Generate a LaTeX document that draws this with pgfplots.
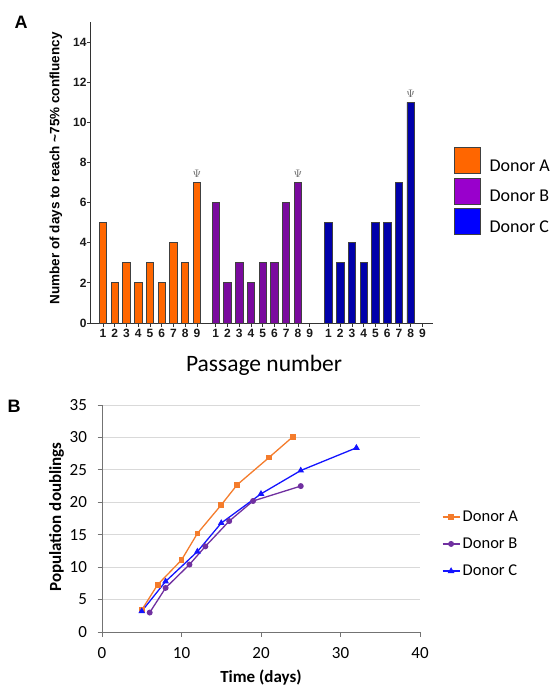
\documentclass[border=0pt]{standalone}
\usepackage{fontspec}
\setmainfont{Liberation Sans}
\newfontfamily\carlito{Carlito}
\usepackage{pgfplots}
\pgfplotsset{compat=1.18}

\definecolor{barA}{HTML}{FF6600}
\definecolor{barB}{HTML}{7A0A9E}
\definecolor{barC}{HTML}{0000AA}
\definecolor{legA}{HTML}{FF6600}
\definecolor{legB}{HTML}{9900CC}
\definecolor{legC}{HTML}{0000FF}
\definecolor{lineA}{HTML}{F47C2C}
\definecolor{lineB}{HTML}{7030A0}
\definecolor{lineC}{HTML}{1414FF}

\begin{document}
\begin{tikzpicture}
\useasboundingbox (0,0) rectangle (552pt,-688pt);

% ---------------- Panel A ----------------
\begin{axis}[
  at={(91pt,-323pt)}, anchor=south west,
  scale only axis, width=342pt, height=301pt,
  xmin=-1.02, xmax=28.1, ymin=0, ymax=15,
  axis x line*=bottom, axis y line*=left,
  axis line style={-, line width=1pt, black!80},
  xtick={0,1,2,3,4,5,6,7,8,9.6,10.6,11.6,12.6,13.6,14.6,15.6,16.6,17.6,19.2,20.2,21.2,22.2,23.2,24.2,25.2,26.2,27.2},
  xticklabels={1,2,3,4,5,6,7,8,9,1,2,3,4,5,6,7,8,9,1,2,3,4,5,6,7,8,9},
  ytick={0,2,...,14},
  yticklabel={\textbf{\pgfmathprintnumber{\tick}}},
  tick align=outside, major tick length=3.5pt,
  tick style={line width=0.8pt, black!80},
  ticklabel style={font=\fontsize{12}{13}\selectfont\bfseries, text=black!90},
  xticklabel style={inner sep=2.5pt},
  yticklabel style={inner sep=0.8pt},
  /pgf/number format/assume math mode=true,
  ylabel={Number of days to reach \textasciitilde75\% confluency},
  ylabel style={at={(axis description cs:-0.103,0.514)}, anchor=center, rotate=0,
    font=\fontsize{13.5}{15}\selectfont\bfseries},
  xlabel={Passage number},
  xlabel style={at={(axis description cs:0.506,-0.1395)}, anchor=center,
    font=\carlito\fontsize{23.5}{26}\selectfont},
  legend style={at={(axis description cs:1.0614,0.5847)}, anchor=north west,
    draw=none, fill=none, inner sep=0pt, outer sep=0pt, row sep=3.6pt,
    font=\carlito\fontsize{18}{20}\selectfont, nodes={inner sep=0pt}},
  legend cell align=left,
  legend image code/.code={\draw[#1, line width=0.9pt] (0pt,-7.2pt) rectangle (26pt,18.8pt); \path (35pt,0pt);},
]
\addlegendimage{fill=legA, draw=black!75}
\addlegendentry{Donor A}
\addlegendimage{fill=legB, draw=black!75}
\addlegendentry{Donor B}
\addlegendimage{fill=legC, draw=black!75}
\addlegendentry{Donor C}

\addplot[ybar, bar shift=0pt, bar width=0.63, fill=barA, draw=black!75, line width=0.8pt, forget plot]
  coordinates {(0,5) (1,2) (2,3) (3,2) (4,3) (5,2) (6,4) (7,3) (8,7)};
\addplot[ybar, bar shift=0pt, bar width=0.63, fill=barB, draw=black!75, line width=0.8pt, forget plot]
  coordinates {(9.6,6) (10.6,2) (11.6,3) (12.6,2) (13.6,3) (14.6,3) (15.6,6) (16.6,7)};
\addplot[ybar, bar shift=0pt, bar width=0.63, fill=barC, draw=black!75, line width=0.8pt, forget plot]
  coordinates {(19.2,5) (20.2,3) (21.2,4) (22.2,3) (23.2,5) (24.2,5) (25.2,7) (26.2,11)};
\addplot[draw=none, mark=none, forget plot, nodes near coords={$\Psi$},
  every node near coord/.append style={anchor=south, inner sep=0pt, yshift=5pt,
    font=\fontsize{10.5}{10.5}\selectfont, text=black!60}]
  coordinates {(8,7) (16.6,7) (26.2,11)};
\end{axis}

% ---------------- Panel B ----------------
\begin{axis}[
  at={(102pt,-632pt)}, anchor=south west,
  scale only axis, width=318pt, height=227pt,
  xmin=0, xmax=40, ymin=0, ymax=35,
  xtick={0,10,...,40}, ytick={0,5,...,35},
  axis x line*=bottom, axis y line*=left,
  axis line style={-, line width=1pt, black!55},
  ymajorgrids, grid style={line width=0.8pt, black!15},
  tick align=outside, major tick length=4.5pt,
  tick style={line width=0.8pt, black!55},
  ticklabel style={font=\carlito\fontsize{17}{19}\selectfont},
  xticklabel style={yshift=-7pt},
  yticklabel style={xshift=-7pt},
  /pgf/number format/assume math mode=true,
  ylabel={Population doublings},
  ylabel style={at={(axis description cs:-0.1425,0.5066)}, anchor=center, rotate=0,
    font=\carlito\fontsize{17}{19}\selectfont\bfseries},
  xlabel={Time (days)},
  xlabel style={at={(axis description cs:0.5,-0.2026)}, anchor=center,
    font=\carlito\fontsize{17}{19}\selectfont\bfseries},
  legend style={at={(axis description cs:1.069,0.3877)}, anchor=west,
    draw=none, fill=none, inner sep=0pt, outer sep=0pt, row sep=15pt,
    font=\carlito\fontsize{16.5}{18}\selectfont, nodes={inner sep=0pt}},
  legend cell align=left,
  legend image code/.code={\draw[mark repeat=2, mark phase=2, #1] plot coordinates {(0pt,0pt) (8.5pt,0pt) (17pt,0pt)}; \path (19.5pt,0pt);},
]
\addplot[color=lineA, line width=1.3pt, mark=square*, mark size=2.2pt, mark options={solid}]
  coordinates {(5,3.4) (7,7.3) (10,11.1) (12,15.2) (15,19.6) (17,22.7) (21,26.9) (24,30.1)};
\addlegendentry{Donor A}
\addplot[color=lineB, line width=1.3pt, mark=*, mark size=2.3pt, mark options={solid}]
  coordinates {(6,3.0) (8,6.8) (11,10.4) (13,13.2) (16,17.1) (19,20.2) (25,22.5)};
\addlegendentry{Donor B}
\addplot[color=lineC, line width=1.3pt, mark=triangle*, mark size=2.6pt, mark options={solid}]
  coordinates {(5,3.2) (8,7.8) (12,12.4) (15,16.8) (20,21.3) (25,24.9) (32,28.4)};
\addlegendentry{Donor C}
\end{axis}

\node[font=\bfseries\fontsize{18}{18}\selectfont] at (21pt,-22pt) {A};
\node[font=\bfseries\fontsize{18}{18}\selectfont] at (14pt,-406pt) {B};
\end{tikzpicture}
\end{document}
